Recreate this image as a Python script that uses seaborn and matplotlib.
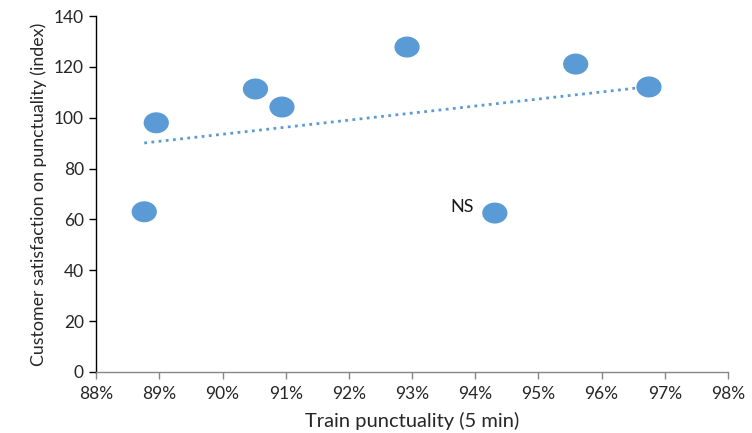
import numpy as np
import pandas as pd
import matplotlib
matplotlib.use("Agg")
import matplotlib.pyplot as plt
from matplotlib.path import Path
from matplotlib.ticker import PercentFormatter, MultipleLocator
import seaborn as sns

# Data
punctuality = [0.8876, 0.8895, 0.9052, 0.9094, 0.9292, 0.9431, 0.9559, 0.9675]
satisfaction = [63.0, 98.0, 111.3, 104.2, 127.8, 62.5, 121.1, 112.1]
labels = ["", "", "", "", "", "NS", "", ""]

x_label = "Train punctuality (5 min)"
y_label = "Customer satisfaction on punctuality (index)"

df = pd.DataFrame({"x": punctuality, "y": satisfaction, "label": labels})

sns.set_style("white")
plt.rcParams["font.family"] = ["Lato", "DejaVu Sans"]

blue = "#5B9BD5"
fig = plt.figure(figsize=(7.52, 4.33), dpi=100)
ax = fig.add_axes([0.128, 0.141, 0.840, 0.822])

# elliptical marker like Excel's
circ = Path.unit_circle()
ell = Path(circ.vertices * np.array([1.2, 1.0]), circ.codes)

sns.regplot(data=df, x="x", y="y", ax=ax, scatter=False, ci=None, truncate=True,
            line_kws=dict(color=blue, lw=2.0, linestyle=(0, (1, 1.6))))
sns.scatterplot(data=df, x="x", y="y", ax=ax, marker=ell, s=330, color=blue,
                edgecolor="none", zorder=3)

for _, r in df.iterrows():
    if r["label"]:
        ax.annotate(r["label"], (r["x"], r["y"]), xytext=(-15, 4),
                    textcoords="offset points", ha="right", va="center",
                    fontsize=13, color="#1a1a1a")

ax.set_xlim(0.88, 0.98)
ax.set_ylim(0, 140)
ax.xaxis.set_major_locator(MultipleLocator(0.01))
ax.xaxis.set_major_formatter(PercentFormatter(xmax=1, decimals=0))
ax.yaxis.set_major_locator(MultipleLocator(20))

ax.set_xlabel(x_label, fontsize=14.5, color="#262626", labelpad=7)
ax.set_ylabel(y_label, fontsize=12.8, color="#262626", labelpad=5)

for s in ["top", "right"]:
    ax.spines[s].set_visible(False)
ax.spines["left"].set_color("#000000")
ax.spines["bottom"].set_color("#868686")
ax.spines["left"].set_linewidth(1.0)
ax.spines["bottom"].set_linewidth(1.0)

ax.tick_params(axis="x", direction="out", length=5, width=1, color="#868686",
               labelsize=12.5, labelcolor="#262626", bottom=True, pad=5)
ax.tick_params(axis="y", direction="out", length=5, width=1, color="#000000",
               labelsize=12.5, labelcolor="#262626", left=True, pad=4)

fig.savefig("out.png", dpi=100)
